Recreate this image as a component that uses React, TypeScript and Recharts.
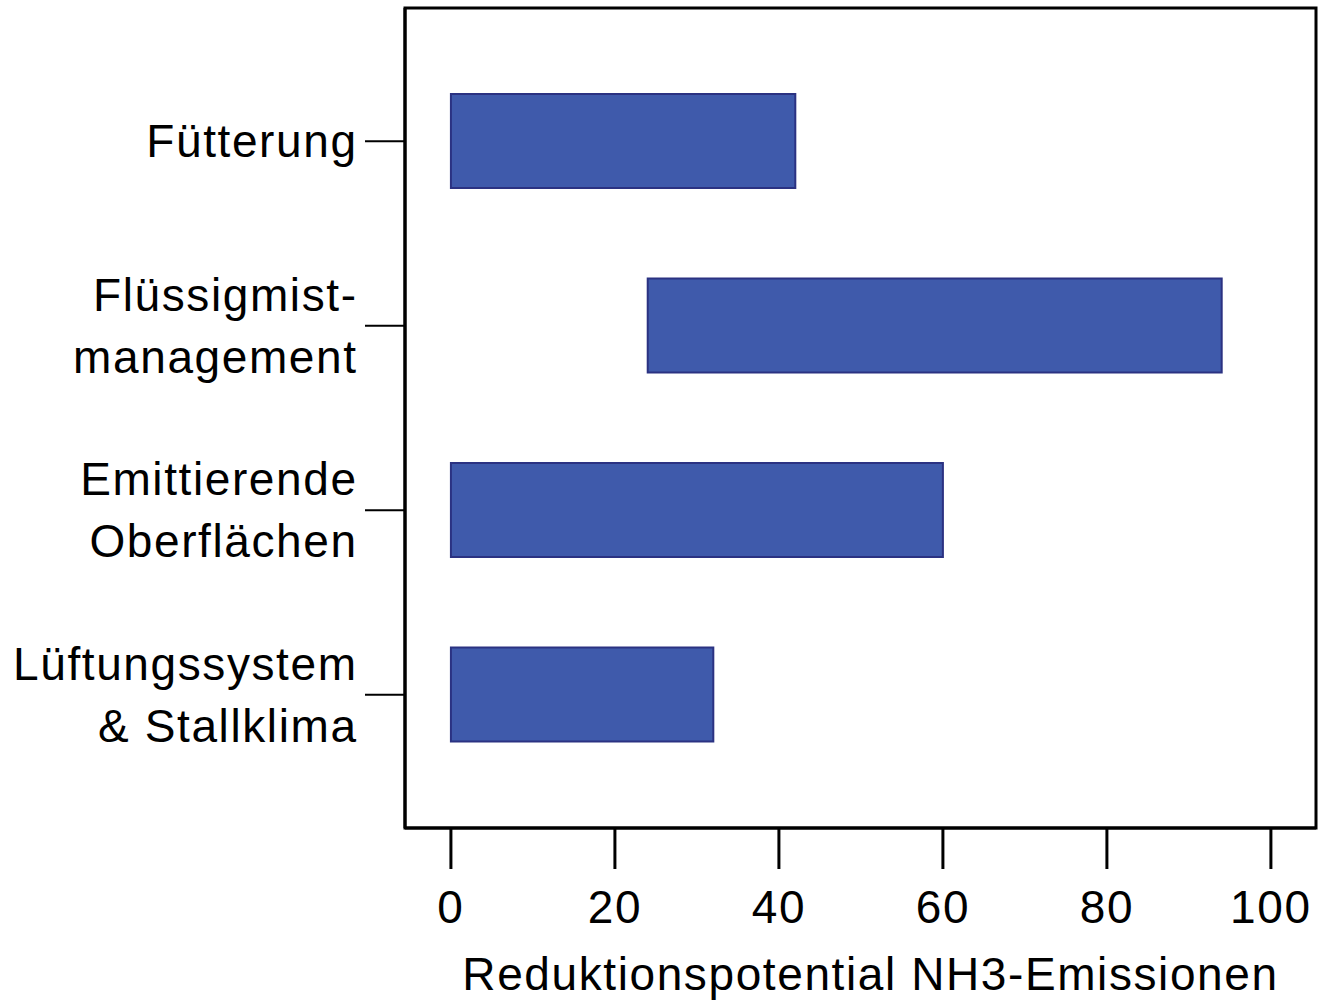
import React from "react";
import { BarChart, Bar, XAxis, YAxis, Label, ReferenceArea } from "recharts";

// Kategorien (von oben nach unten) und Spannweiten des Reduktionspotentials
const categories = [
  "Fütterung",
  "Flüssigmist-\nmanagement",
  "Emittierende\nOberflächen",
  "Lüftungssystem\n& Stallklima",
];
const lowValues = [0, 24, 0, 0];
const highValues = [42, 94, 60, 32];
const xTicks = [0, 20, 40, 60, 80, 100];
const xLabel = "Reduktionspotential NH3-Emissionen";

const data = categories.map((name, i) => ({
  name,
  range: [lowValues[i], highValues[i]],
}));

const FONT = "'Liberation Sans', Arial, sans-serif";
const SPACING = 1.6;

function CategoryTick(props: any) {
  const { x, y, payload } = props;
  const lines = String(payload.value).split("\n");
  const lh = 62;
  const first = -((lines.length - 1) * lh) / 2;
  return (
    <text
      x={x}
      y={y}
      textAnchor="end"
      fontFamily={FONT}
      fontSize={46}
      letterSpacing={SPACING}
      fill="#000"
    >
      {lines.map((l, i) => (
        <tspan key={i} x={x + SPACING} y={y + first + i * lh + 16}>
          {l}
        </tspan>
      ))}
    </text>
  );
}

export default function App() {
  const domain: [number, number] = [-5.6, 105.5];
  return (
    <div style={{ position: "absolute", left: 0, top: 0, background: "#fff" }}>
      <BarChart
        width={1323}
        height={1005}
        data={data}
        layout="vertical"
        margin={{ top: 8, right: 7, left: 0, bottom: 0 }}
        barSize={94}
      >
        <XAxis
          type="number"
          domain={domain}
          ticks={xTicks}
          height={177}
          axisLine={{ stroke: "#000", strokeWidth: 3 }}
          tickLine={{ stroke: "#000", strokeWidth: 3 }}
          tickSize={41}
          tickMargin={21}
          tick={{ fill: "#000", fontSize: 46, fontFamily: FONT, letterSpacing: SPACING }}
        >
          <Label
            value={xLabel}
            position="insideBottom"
            offset={15}
            dx={10}
            fill="#000"
            fontSize={46}
            fontFamily={FONT}
            letterSpacing={SPACING}
          />
        </XAxis>
        <YAxis
          type="category"
          dataKey="name"
          width={405}
          padding={{ top: 41, bottom: 41 }}
          axisLine={{ stroke: "#000", strokeWidth: 3 }}
          tickLine={{ stroke: "#000", strokeWidth: 2 }}
          tickSize={40}
          tickMargin={9}
          tick={<CategoryTick />}
          interval={0}
        />
        {/* unsichtbare Hilfsachse (ohne Padding) für den Rahmen */}
        <YAxis yAxisId="frame" type="number" hide />
        <ReferenceArea
          yAxisId="frame"
          x1={domain[0]}
          x2={domain[1]}
          y1={0}
          y2={categories.length - 1}
          fill="none"
          fillOpacity={0}
          stroke="#000"
          strokeWidth={3}
          ifOverflow="visible"
        />
        <Bar
          dataKey="range"
          fill="#3F5AAB"
          stroke="#2B3282"
          strokeWidth={2}
          isAnimationActive={false}
        />
      </BarChart>
    </div>
  );
}
